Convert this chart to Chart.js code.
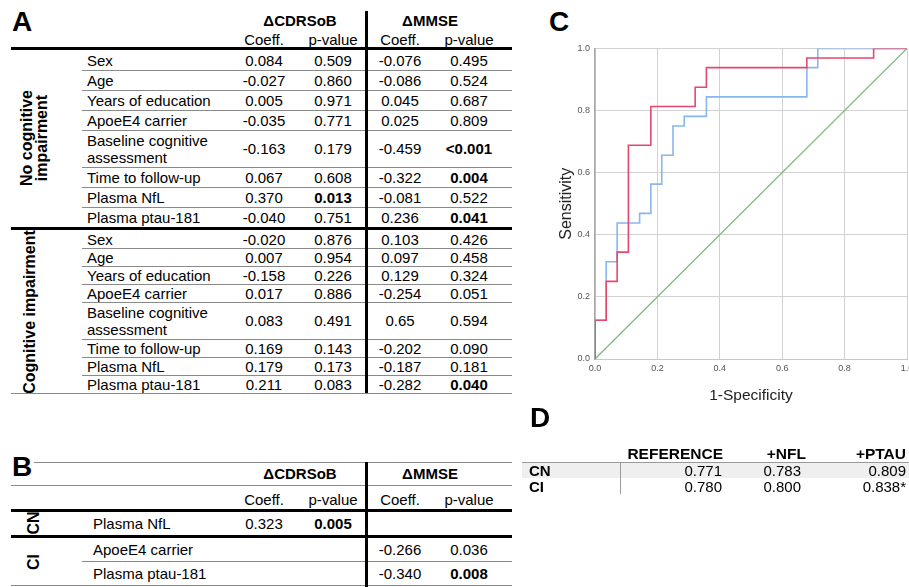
<!DOCTYPE html>
<html>
<head>
<meta charset="utf-8">
<script src="https://cdn.jsdelivr.net/npm/chart.js@4.4.1/dist/chart.umd.min.js"></script>
<style>
  body { margin: 0; width: 909px; height: 587px; overflow: hidden; background: #fff; position: relative;
         font-family: "Liberation Sans", Arial, sans-serif; color: #000; }
  .t { position: absolute; display: flex; align-items: center; font-size: 15px; line-height: 17px; white-space: nowrap; }
  .c { justify-content: center; }
  .r { justify-content: flex-end; }
  .b { font-weight: bold; }
  .wrap { white-space: normal; }
  .line { position: absolute; background: #8a8a8a; }
  .letter { position: absolute; font-size: 28px; font-weight: bold; line-height: 28px; }
  .rot { position: absolute; font-weight: bold; font-size: 16px; line-height: 15px; text-align: center;
         white-space: pre-line; transform: translate(-50%, -50%) rotate(-90deg); }
  #roc { position: absolute; left: 550px; top: 38px; }
</style>
</head>
<body>
<canvas id="roc" width="372" height="372"></canvas>
<script>
// ---- panel A: linear regression, no cognitive impairment / cognitive impairment
const predictorsA = ["Sex", "Age", "Years of education", "ApoeE4 carrier", "Baseline cognitive assessment",
  "Time to follow-up", "Plasma NfL", "Plasma ptau-181"];
const nciCdrCoeff = ["0.084", "-0.027", "0.005", "-0.035", "-0.163", "0.067", "0.370", "-0.040"];
const nciCdrP = ["0.509", "0.860", "0.971", "0.771", "0.179", "0.608", "0.013", "0.751"];
const nciMmseCoeff = ["-0.076", "-0.086", "0.045", "0.025", "-0.459", "-0.322", "-0.081", "0.236"];
const nciMmseP = ["0.495", "0.524", "0.687", "0.809", "<0.001", "0.004", "0.522", "0.041"];
const ciCdrCoeff = ["-0.020", "0.007", "-0.158", "0.017", "0.083", "0.169", "0.179", "0.211"];
const ciCdrP = ["0.876", "0.954", "0.226", "0.886", "0.491", "0.143", "0.173", "0.083"];
const ciMmseCoeff = ["0.103", "0.097", "0.129", "-0.254", "0.65", "-0.202", "-0.187", "-0.282"];
const ciMmseP = ["0.426", "0.458", "0.324", "0.051", "0.594", "0.090", "0.181", "0.040"];

// ---- panel B: final models
const predictorsB = ["Plasma NfL", "ApoeE4 carrier", "Plasma ptau-181"];
const cdrCoeffB = ["0.323", "", ""];
const cdrPB = ["0.005", "", ""];
const mmseCoeffB = ["", "-0.266", "-0.340"];
const mmsePB = ["", "0.036", "0.008"];
const significantB = [true, false, true];

// ---- panel C: ROC curves (1-specificity, sensitivity)
const ptauFpr = [0, 0, 0.036, 0.071, 0.107, 0.179, 0.321, 0.357, 0.679, 0.893, 1];
const ptauTpr = [0, 0.125, 0.25, 0.344, 0.688, 0.813, 0.875, 0.938, 0.969, 1, 1];
const refFpr = [0, 0, 0.036, 0.071, 0.143, 0.179, 0.214, 0.25, 0.286, 0.357, 0.679, 0.714, 1];
const refTpr = [0, 0.125, 0.313, 0.438, 0.469, 0.563, 0.656, 0.75, 0.781, 0.844, 0.938, 1, 1];
const diagFpr = [0, 1];
const diagTpr = [0, 1];
const rocTicks = [0, 0.2, 0.4, 0.6, 0.8, 1];

// ---- panel D: AUC
const aucModels = ["REFERENCE", "+NFL", "+PTAU"];
const aucGroups = ["CN", "CI"];
const aucCN = ["0.771", "0.783", "0.809"];
const aucCI = ["0.780", "0.800", "0.838*"];

function add(cls, css, text) {
  const el = document.createElement("div");
  el.className = cls;
  Object.assign(el.style, css);
  if (text !== undefined) el.textContent = text;
  document.body.appendChild(el);
  return el;
}
const px = (v) => v + "px";
function hline(x, y, w, h = 1, color = "#8a8a8a") {
  add("line", { left: px(x), top: px(y), width: px(w), height: px(h), background: color });
}
function vline(x, y, h, w = 3, color = "#000") {
  add("line", { left: px(x), top: px(y), width: px(w), height: px(h), background: color });
}
function centered(text, cx, y, h, bold) {
  add("t c" + (bold ? " b" : ""), { left: px(cx - 45), width: "90px", top: px(y), height: px(h) }, text);
}

const colX = [264, 333, 400, 469];

// panel letters
add("letter", { left: "12px", top: "8px" }, "A");
add("letter", { left: "549px", top: "8px" }, "C");
add("letter", { left: "12px", top: "453px" }, "B");
add("letter", { left: "530px", top: "404px" }, "D");

// ---- table A
centered("ΔCDRSoB", 300, 11, 18, true);
centered("ΔMMSE", 430, 11, 18, true);
["Coeff.", "p-value", "Coeff.", "p-value"].forEach((s, i) => centered(s, colX[i], 30, 18));
hline(11, 47, 501, 3, "#000");

function groupA(y0, smallH, cols, boldLimit) {
  let y = y0;
  predictorsA.forEach((p, i) => {
    const h = p.startsWith("Baseline") ? 37 : smallH;
    add("t" + (h > 30 ? " wrap" : ""), { left: "87px", width: "140px", top: px(y), height: px(h) }, p);
    cols.forEach((arr, k) => {
      const isP = k % 2 === 1;
      const v = arr[i];
      const bold = isP && (v.startsWith("<") || parseFloat(v) < boldLimit);
      centered(v, colX[k], y, h, bold);
    });
    y += h;
    if (i < predictorsA.length - 1) hline(82, y, 430);
  });
  return y;
}
let yA = groupA(50, 20, [nciCdrCoeff, nciCdrP, nciMmseCoeff, nciMmseP], 0.05);
hline(11, yA, 501, 3, "#000");
yA = groupA(yA + 3, 18, [ciCdrCoeff, ciCdrP, ciMmseCoeff, ciMmseP], 0.05);
hline(11, yA, 501);
vline(365, 11, yA - 11);
add("rot", { left: "34px", top: "138px" }, "No cognitive\nimpairment");
add("rot", { left: "29px", top: "312px" }, "Cognitive impairment");

// ---- table B
hline(34, 462, 478);
centered("ΔCDRSoB", 300, 464, 18, true);
centered("ΔMMSE", 430, 464, 18, true);
hline(11, 485, 501);
["Coeff.", "p-value", "Coeff.", "p-value"].forEach((s, i) => centered(s, colX[i], 490, 18));
hline(11, 509, 501, 3, "#000");
const rowYB = [512, 538, 562];
const rowHB = [23, 23, 23];
predictorsB.forEach((p, i) => {
  const y = rowYB[i], h = rowHB[i];
  add("t", { left: "93px", width: "140px", top: px(y), height: px(h) }, p);
  [cdrCoeffB, cdrPB, mmseCoeffB, mmsePB].forEach((arr, k) => {
    if (arr[i]) centered(arr[i], colX[k], y, h, k % 2 === 1 && significantB[i]);
  });
});
hline(11, 535, 501, 3, "#000");
hline(82, 561, 430);
hline(11, 585, 501);
vline(365, 462, 125);
add("rot", { left: "33px", top: "523px" }, aucGroups[0]);
add("rot", { left: "33px", top: "562px" }, aucGroups[1]);

// ---- table D
const aucRight = [723, 806, 906];
const valRight = [722, 801, 906];
aucModels.forEach((m, i) =>
  add("t r b", { left: px(aucRight[i] - 120), width: "120px", top: "444px", height: "18px", fontSize: "15.5px" }, m));
add("line", { left: "522px", top: "462px", width: "387px", height: "16px", background: "#efefef" });
hline(522, 462, 387, 1, "#9a9a9a");
vline(620, 462, 32, 1, "#9a9a9a");
[aucCN, aucCI].forEach((row, r) => {
  const y = 462 + r * 16;
  add("t b", { left: "529px", width: "60px", top: px(y), height: "16px" }, aucGroups[r]);
  row.forEach((v, i) =>
    add("t r", { left: px(valRight[i] - 90), width: "90px", top: px(y), height: "16px" }, v));
});

// ---- panel C
Chart.defaults.font.family = "'Liberation Sans', Arial, sans-serif";
const pts = (xs, ys) => xs.map((x, i) => ({ x, y: ys[i] }));
const axis = (title, pad) => ({
  type: "linear",
  min: 0,
  max: 1,
  afterBuildTicks: (s) => { s.ticks = rocTicks.map((v) => ({ value: v })); },
  ticks: { callback: (v) => v.toFixed(1), font: { size: 9 }, color: "#555", autoSkip: false, maxRotation: 0 },
  grid: { color: "#d2d2d2", drawTicks: false },
  title: { display: true, text: title, color: "#222", padding: pad },
});

const xAxis = axis("1-Specificity", { top: 0, bottom: 5 });
xAxis.ticks.padding = 4;
xAxis.title.font = { size: 15.5 };
xAxis.border = { color: "#c8c8c8" };
xAxis.afterFit = (s) => { s.height = 51; };

const yAxis = axis("Sensitivity", { top: 7, bottom: 0 });
yAxis.ticks.padding = 5;
yAxis.title.font = { size: 16 };
yAxis.border = { color: "#a8a8a8", width: 1.5 };
yAxis.afterFit = (s) => { s.width = 45; };

new Chart(document.getElementById("roc"), {
  type: "scatter",
  data: {
    datasets: [
      { data: pts(ptauFpr, ptauTpr), showLine: true, stepped: true, borderColor: "#e5486e", borderWidth: 1.6, pointRadius: 0 },
      { data: pts(refFpr, refTpr), showLine: true, stepped: true, borderColor: "#88b6ee", borderWidth: 1.6, pointRadius: 0 },
      { data: pts(diagFpr, diagTpr), showLine: true, borderColor: "#7dbb7d", borderWidth: 1.3, pointRadius: 0 },
    ],
  },
  options: {
    responsive: false,
    animation: false,
    layout: { padding: { top: 9, right: 15, bottom: 0, left: 0 } },
    plugins: { legend: { display: false }, tooltip: { enabled: false } },
    scales: { x: xAxis, y: yAxis },
  },
});
</script>
</body>
</html>
